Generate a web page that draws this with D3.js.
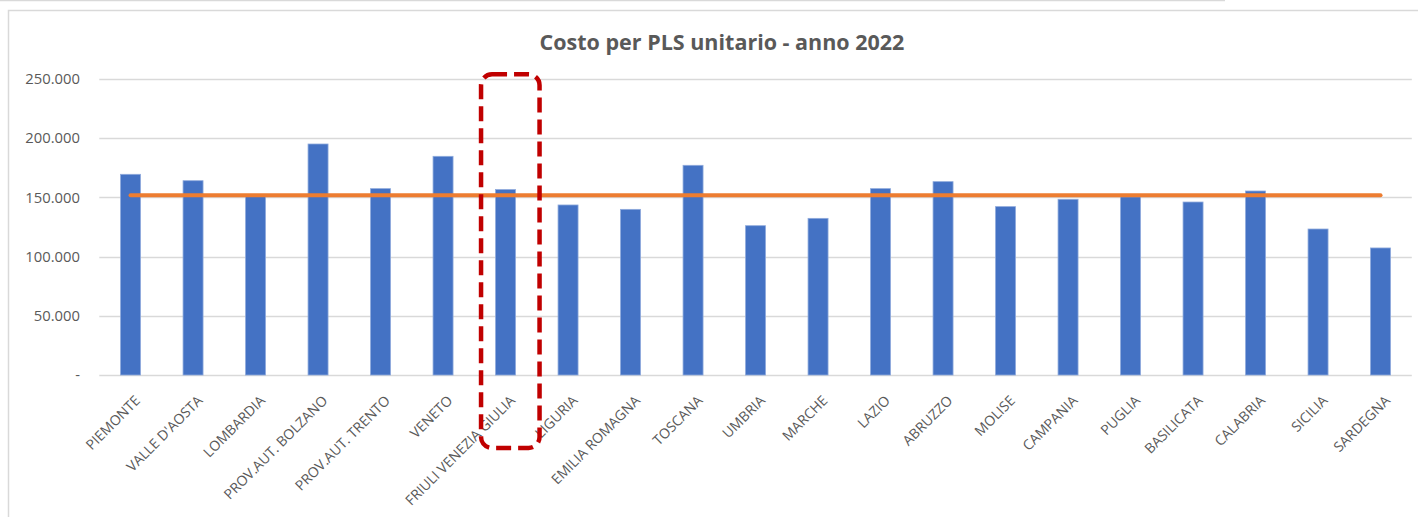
<!DOCTYPE html>
<html>
<head>
<meta charset="utf-8">
<script src="https://cdn.jsdelivr.net/npm/d3@7"></script>
<style>
  html, body { margin: 0; padding: 0; background: #fff; }
  svg { display: block; }
  text { font-family: "Open Sans", "Noto Sans", sans-serif; fill: #595959; }
</style>
</head>
<body>
<svg id="chart" width="1418" height="517"></svg>
<script>
// Regional cost per PLS unit, 2022
const regions = [
  "PIEMONTE", "VALLE D'AOSTA", "LOMBARDIA", "PROV.AUT. BOLZANO", "PROV.AUT. TRENTO",
  "VENETO", "FRIULI VENEZIA GIULIA", "LIGURIA", "EMILIA ROMAGNA", "TOSCANA",
  "UMBRIA", "MARCHE", "LAZIO", "ABRUZZO", "MOLISE", "CAMPANIA", "PUGLIA",
  "BASILICATA", "CALABRIA", "SICILIA", "SARDEGNA"
];
const costs = [
  169500, 164100, 151000, 195100, 157400,
  184700, 156600, 143600, 139900, 177100,
  126100, 132300, 157400, 163300, 142200, 148400, 150500,
  146100, 155400, 123300, 107300
];
const nationalAverage = 151800;
const yTicks = [0, 50000, 100000, 150000, 200000, 250000];
const highlighted = "FRIULI VENEZIA GIULIA";

const svg = d3.select("#chart");
const W = 1418;

// chart frame
svg.append("line")
  .attr("x1", 0).attr("x2", 1225).attr("y1", 0.5).attr("y2", 0.5)
  .attr("stroke", "#d9d9d9").attr("stroke-width", 1.5);
svg.append("rect")
  .attr("x", 8.5).attr("y", 10.5).attr("width", W).attr("height", 600)
  .attr("fill", "none").attr("stroke", "#d9d9d9").attr("stroke-width", 1.5);

const plot = { left: 99.3, right: 1411.8, top: 79, bottom: 375 };

const x = d3.scaleBand()
  .domain(regions)
  .range([plot.left, plot.right])
  .paddingInner(0.68)
  .paddingOuter(0.34);

const y = d3.scaleLinear()
  .domain([0, 250000])
  .range([plot.bottom, plot.top]);

const fmt = v => v === 0 ? "-" : d3.format(",")(v).replace(/,/g, ".");

// horizontal gridlines
svg.append("g")
  .selectAll("line")
  .data(yTicks)
  .join("line")
  .attr("x1", plot.left).attr("x2", plot.right)
  .attr("y1", d => Math.round(y(d)) + 0.5).attr("y2", d => Math.round(y(d)) + 0.5)
  .attr("stroke", "#d9d9d9").attr("stroke-width", 1.5);

// value axis labels
const yAxis = d3.axisLeft(y).tickValues(yTicks).tickFormat(fmt).tickSize(0).tickPadding(0);
const yg = svg.append("g").attr("transform", "translate(80,0)").call(yAxis);
yg.select(".domain").remove();
yg.selectAll("text")
  .attr("font-size", 14.8).attr("fill", "#595959")
  .style("font-family", '"Open Sans", sans-serif');

// bars
svg.append("g")
  .selectAll("rect")
  .data(regions.map((r, i) => ({ r, v: costs[i] })))
  .join("rect")
  .attr("x", d => x(d.r))
  .attr("width", x.bandwidth())
  .attr("y", d => y(d.v))
  .attr("height", d => y(0) - y(d.v))
  .attr("fill", "#4472c4")
  .attr("stroke", "#8faadc")
  .attr("stroke-width", 0.8);

// national average line
const cx = r => x(r) + x.bandwidth() / 2;
svg.append("line")
  .attr("x1", cx(regions[0]))
  .attr("x2", cx(regions[regions.length - 1]))
  .attr("y1", y(nationalAverage)).attr("y2", y(nationalAverage))
  .attr("stroke", "#ed7d31").attr("stroke-width", 4)
  .attr("stroke-linecap", "round");

// category labels, rotated
svg.append("g")
  .selectAll("text")
  .data(regions)
  .join("text")
  .attr("transform", d => `translate(${cx(d) + 7},${plot.bottom + 23}) rotate(-45)`)
  .attr("text-anchor", "end")
  .attr("dy", "0.35em")
  .attr("font-size", 14)
  .text(d => d);

// highlight box around one region
const hx = cx(highlighted);
svg.append("rect")
  .attr("x", hx - 24.5).attr("y", y(254000))
  .attr("width", 58.5).attr("height", 448 - y(254000))
  .attr("rx", 11).attr("ry", 11)
  .attr("fill", "none")
  .attr("stroke", "#c00000").attr("stroke-width", 4.5)
  .attr("stroke-dasharray", "15 7");

// title
svg.append("text")
  .attr("x", 722).attr("y", 50)
  .attr("text-anchor", "middle")
  .attr("font-size", 21.5).attr("font-weight", "bold")
  .text("Costo per PLS unitario - anno 2022");
</script>
</body>
</html>
